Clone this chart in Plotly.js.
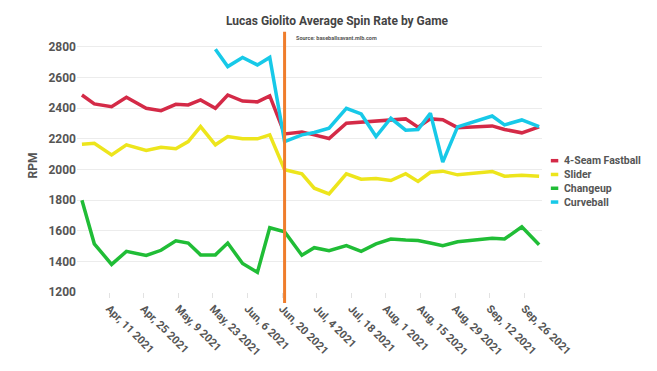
<!DOCTYPE html>
<html>
<head>
<meta charset="utf-8">
<script src="https://cdn.plot.ly/plotly-3.0.1.min.js"></script>
<style>html,body{margin:0;padding:0;background:#fff;}#chart{width:657px;height:371px;}</style>
</head>
<body>
<div id="chart"></div>
<script>
// ---- data ----
const gameDates = [
  '2021-03-31','2021-04-05','2021-04-12','2021-04-18','2021-04-26','2021-05-02','2021-05-08','2021-05-13',
  '2021-05-18','2021-05-24','2021-05-29','2021-06-04','2021-06-10','2021-06-15','2021-06-21','2021-06-28',
  '2021-07-03','2021-07-09','2021-07-16','2021-07-22','2021-07-28','2021-08-03','2021-08-09','2021-08-14',
  '2021-08-19','2021-08-24','2021-08-30','2021-09-13','2021-09-18','2021-09-25','2021-10-02'
];
const fastball = [2485,2427,2409,2470,2398,2383,2424,2420,2453,2398,2485,2445,2440,2479,2231,2244,
  2225,2201,2301,2308,2312,2322,2329,2275,2329,2324,2272,2283,2260,2238,2277];
const slider = [2164,2170,2094,2160,2123,2144,2134,2181,2279,2160,2214,2199,2199,2225,1997,1971,
  1877,1840,1971,1936,1940,1927,1971,1921,1981,1988,1964,1986,1955,1961,1955];
const changeup = [1799,1514,1380,1465,1438,1472,1534,1519,1442,1442,1519,1386,1328,1619,1593,1440,
  1489,1469,1503,1465,1514,1545,1539,1536,1520,1502,1528,1550,1546,1625,1508];
const curveball = [null,null,null,null,null,null,null,null,null,2783,2670,2730,2681,2730,2181,2225,
  2240,2268,2398,2361,2214,2333,2255,2260,2366,2047,2277,2348,2290,2322,2279];
const seriesNames = ['4-Seam Fastball','Slider','Changeup','Curveball'];
const seriesValues = [fastball, slider, changeup, curveball];
const seriesColors = ['#d42a47','#ede51c','#20bd36','#17c9e8'];
const eventDate = '2021-06-21';
const titleText = 'Lucas Giolito Average Spin Rate by Game';
const sourceText = 'Source: baseballsavant.mlb.com';
const yAxisLabel = 'RPM';

// ---- chart ----
const FONT = 'Roboto, "Open Sans", sans-serif';
const traces = seriesNames.map((name, i) => ({
  type: 'scatter', mode: 'lines', name: name,
  x: gameDates, y: seriesValues[i],
  line: {color: seriesColors[i], width: 3.5},
  connectgaps: false, showlegend: false, hoverinfo: 'x+y+name'
}));

// legend built as annotations + short bars (compact spacing of original)
const legTop = 0.519, legStep = 0.0545;
const annotations = [{
  text: sourceText, xref: 'paper', yref: 'paper', x: 0.559, y: 1.004,
  xanchor: 'center', yanchor: 'middle', showarrow: false,
  font: {family: FONT, size: 5.5, color: '#555', weight: 'bold'}
}];
const shapes = [{
  type: 'line', xref: 'x', yref: 'paper', x0: eventDate, x1: eventDate, y0: -0.043, y1: 1.029,
  line: {color: '#ef7d2c', width: 3}, layer: 'above'
}];
seriesNames.forEach((name, i) => {
  const yy = legTop - i * legStep;
  annotations.push({
    text: name, xref: 'paper', yref: 'paper', x: 1.043, y: yy,
    xanchor: 'left', yanchor: 'middle', showarrow: false,
    font: {family: FONT, size: 10.5, color: '#555', weight: 'bold'}
  });
  shapes.push({
    type: 'line', xref: 'paper', yref: 'paper', x0: 1.019, x1: 1.035, y0: yy, y1: yy,
    line: {color: seriesColors[i], width: 3.5}
  });
});

const layout = {
  width: 657, height: 371,
  margin: {l: 77, r: 115, t: 39, b: 79},
  paper_bgcolor: '#fff', plot_bgcolor: '#fff',
  font: {family: FONT, color: '#555'},
  title: {text: titleText, x: 0.513, xref: 'container', y: 0.943, yref: 'container', yanchor: 'middle',
    font: {family: FONT, size: 12, color: '#444', weight: 'bold'}},
  xaxis: {
    type: 'date', range: ['2021-03-29', '2021-10-03 04:00'],
    tick0: '2021-04-11', dtick: 14 * 86400000, tickformat: '%b, %-d %Y', tickangle: 45,
    ticks: 'outside', ticklen: 5, tickcolor: '#e2e2e2', showgrid: false, zeroline: false, showline: false,
    tickfont: {family: FONT, size: 11, color: '#555', weight: 'bold'}
  },
  yaxis: {
    range: [1200, 2850], tick0: 1200, dtick: 200, gridcolor: '#ececec', zeroline: false, showline: false,
    tickfont: {family: FONT, size: 12, color: '#555', weight: 'bold'},
    title: {text: yAxisLabel, font: {family: FONT, size: 12, color: '#555', weight: 'bold'}, standoff: 8}
  },
  showlegend: false,
  annotations: annotations,
  shapes: shapes
};
Plotly.newPlot('chart', traces, layout, {displayModeBar: false, staticPlot: true});
</script>
</body>
</html>
